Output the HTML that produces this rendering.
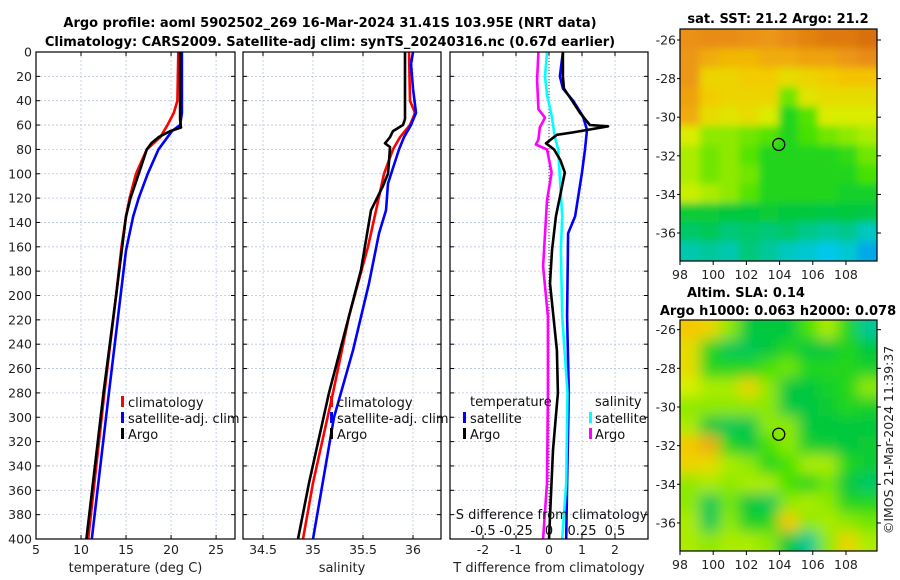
<!DOCTYPE html>
<html><head><meta charset="utf-8">
<style>
html,body{margin:0;padding:0;background:#fff;}
svg{display:block;font-family:"DejaVu Sans","Liberation Sans",sans-serif;}
.tk{font-size:12.5px;fill:#222;}
.tt{font-size:13px;font-weight:bold;fill:#000;}
.lg{font-size:13px;fill:#111;}
</style></head>
<body>
<svg id="c" width="900" height="580" viewBox="0 0 900 580" xmlns="http://www.w3.org/2000/svg">
<defs>
<filter id="blurS" x="-5%" y="-5%" width="110%" height="110%"><feGaussianBlur stdDeviation="4"/></filter>
<filter id="blurL" x="-5%" y="-5%" width="110%" height="110%"><feGaussianBlur stdDeviation="7"/></filter>
<clipPath id="clipM1"><rect x="680" y="29" width="197" height="232"/></clipPath>
<clipPath id="clipM2"><rect x="680" y="320" width="197" height="231"/></clipPath>
</defs>
<text class="tt" x="330" y="27" text-anchor="middle">Argo profile: aoml 5902502_269 16-Mar-2024 31.41S 103.95E (NRT data)</text>
<text class="tt" x="330" y="46" text-anchor="middle">Climatology: CARS2009. Satellite-adj clim: synTS_20240316.nc (0.67d earlier)</text>
<text class="tt" x="778" y="23" text-anchor="middle">sat. SST: 21.2 Argo: 21.2</text>
<text class="tt" x="687" y="297">Altim. SLA: 0.14</text>
<text class="tt" x="778" y="315" text-anchor="middle">Argo h1000: 0.063 h2000: 0.078</text>
<text class="tk" transform="translate(893,440) rotate(-90)" text-anchor="middle">©IMOS 21-Mar-2024 11:39:37</text>
<g id="plots"></g>
</svg>
<script>
// ---------- data ----------
const depthTicks=[0,20,40,60,80,100,120,140,160,180,200,220,240,260,280,300,320,340,360,380,400];
const tempTicks=[5,10,15,20,25];
const salTicks=[34.5,35,35.5,36];
const dtTicks=[-2,-1,0,1,2];
const dsTicks=[-0.5,-0.25,0,0.25,0.5];
const dsTickLabels=["-0.5","-0.25","0","0.25","0.5"];

const tClimDepth=[0,40,50,60,70,80,100,120,135,160,200,280,400];
const tClimVal=[20.8,20.7,20.3,19.6,18.8,17.3,16.1,15.4,15.0,14.5,13.9,12.6,10.8];
const tSatDepth=[0,50,60,65,70,80,100,120,135,163,200,280,400];
const tSatVal=[21.2,21.2,21.0,20.1,19.6,18.6,17.4,16.4,15.8,15.0,14.4,13.1,11.2];
const tArgoDepth=[0,55,62,65,70,75,80,100,120,135,200,280,400];
const tArgoVal=[21.0,21.0,21.1,19.9,18.6,17.8,17.3,16.4,15.5,15.0,13.9,12.5,10.6];

const sClimDepth=[0,40,50,60,70,80,100,119,160,217,280,354,400];
const sClimVal=[35.96,35.97,36.02,35.97,35.87,35.80,35.71,35.66,35.55,35.36,35.2,35.0,34.9];
const sSatDepth=[0,10,30,50,60,70,80,108,130,149,190,245,300,400];
const sSatVal=[36.0,35.98,36.0,36.03,35.98,35.91,35.86,35.75,35.73,35.66,35.56,35.40,35.21,35.0];
const sArgoDepth=[0,55,60,65,70,75,78,90,100,110,130,179,217,280,354,400];
const sArgoVal=[35.92,35.92,35.9,35.8,35.77,35.72,35.77,35.76,35.75,35.7,35.58,35.48,35.36,35.16,34.96,34.85];

const dtSatDepth=[0,20,30,40,53,64,80,99,135,149,217,280,354,400];
const dtSatVal=[0.42,0.33,0.42,0.73,1.03,1.15,1.09,1.0,0.79,0.58,0.55,0.6,0.55,0.52];
const dtArgoDepth=[0,20,30,40,50,60,61,66,68,75,80,89,99,119,135,163,190,245,280,327,400];
const dtArgoVal=[0.42,0.42,0.45,0.7,0.94,1.24,1.79,0.73,0.24,-0.09,0.15,0.35,0.48,0.33,0.21,0.09,0.03,0.24,0.27,0.12,0.0];
const dsSatDepth=[0,20,35,52,70,80,135,163,217,280,354,400];
const dsSatVal=[-0.015,-0.03,-0.015,0.02,0.045,0.07,0.1,0.09,0.1,0.14,0.13,0.1];
const dsArgoDepth=[0,23,47,54,62,72,76,80,99,122,176,217,280,354,400];
const dsArgoVal=[-0.08,-0.09,-0.08,-0.03,-0.07,-0.08,-0.1,-0.015,0.02,-0.015,-0.045,-0.008,-0.008,-0.015,-0.045];

const lonTicks=[98,100,102,104,106,108];
const latTicks=[-26,-28,-30,-32,-34,-36];
const argoLon=103.95, argoLat=-31.41;
const sstGrid=[
[.85,.86,.86,.85,.84,.86,.88,.9,.9,.92],
[.84,.8,.78,.78,.8,.8,.82,.82,.84,.86],
[.84,.72,.72,.74,.74,.7,.72,.74,.76,.76],
[.82,.74,.72,.72,.72,.58,.68,.7,.7,.7],
[.8,.7,.68,.7,.66,.5,.56,.66,.66,.66],
[.66,.6,.6,.58,.56,.5,.55,.58,.6,.62],
[.62,.58,.6,.56,.5,.5,.5,.5,.52,.58],
[.62,.58,.6,.58,.5,.5,.5,.5,.5,.55],
[.64,.62,.6,.56,.5,.5,.5,.5,.48,.48],
[.46,.46,.45,.45,.46,.45,.45,.44,.45,.44],
[.4,.42,.38,.4,.38,.4,.36,.34,.36,.3],
[.32,.34,.32,.38,.34,.3,.28,.25,.28,.2]];
const slaGrid=[
[.75,.72,.6,.45,.45,.45,.55,.62,.5,.35],
[.7,.5,.42,.42,.45,.5,.45,.45,.5,.45],
[.7,.5,.5,.5,.55,.58,.5,.5,.5,.48],
[.65,.62,.62,.72,.6,.45,.45,.48,.5,.6],
[.6,.6,.6,.6,.6,.44,.44,.46,.5,.48],
[.62,.45,.42,.43,.6,.6,.45,.45,.45,.45],
[.75,.8,.5,.45,.55,.6,.48,.46,.45,.46],
[.72,.7,.62,.6,.5,.55,.62,.62,.5,.46],
[.6,.62,.6,.62,.62,.55,.5,.58,.45,.4],
[.6,.42,.58,.45,.42,.6,.62,.6,.5,.5],
[.62,.42,.6,.48,.5,.75,.6,.62,.6,.58],
[.62,.6,.62,.62,.6,.45,.35,.6,.72,.62]];

// ---------- helpers ----------
const NS="http://www.w3.org/2000/svg";
const root=document.getElementById('plots');
function mk(tag,attrs,parent){const e=document.createElementNS(NS,tag);for(const k in attrs)e.setAttribute(k,attrs[k]);(parent||root).appendChild(e);return e;}
const top0=52,bot0=539;
const yD=d=>top0+(d/400)*(bot0-top0);
function lin(d0,d1,r0,r1){return v=>r0+(v-d0)/(d1-d0)*(r1-r0);}

function panel(x0,x1,xs,ticks,labels,name,title,showY){
  const g=mk('g',{});
  
  
  depthTicks.forEach(d=>{const l=mk('line',{x1:x0,x2:x1,y1:yD(d),y2:yD(d),stroke:'#b8c4e0','stroke-width':0.8,'stroke-dasharray':'2,2'},g);
    
    mk('line',{x1:x0,x2:x0+4,y1:yD(d),y2:yD(d),stroke:'#000'},g);mk('line',{x1:x1-4,x2:x1,y1:yD(d),y2:yD(d),stroke:'#000'},g);
    if(showY){const t=mk('text',{x:x0-4,y:yD(d)+4.5,'text-anchor':'end',class:'tk'},g);t.textContent=d;
      }
  });
  ticks.forEach((v,i)=>{const x=xs(v);
    if(x>x0+1&&x<x1-1){const l=mk('line',{x1:x,x2:x,y1:top0,y2:bot0,stroke:'#b8c4e0','stroke-width':0.8,'stroke-dasharray':'2,2'},g);
      }
    mk('line',{x1:x,x2:x,y1:bot0,y2:bot0-4,stroke:'#000'},g);mk('line',{x1:x,x2:x,y1:top0,y2:top0+4,stroke:'#000'},g);
    const t=mk('text',{x:x,y:554,'text-anchor':'middle',class:'tk'},g);t.textContent=labels?labels[i]:v;
    
  });
  const t=mk('text',{x:(x0+x1)/2,y:572,'text-anchor':'middle',class:'tk',style:'font-size:13px'},g);t.textContent=title;
  
  return g;
}
function frame(x0,x1,name){const r=mk('rect',{x:x0,y:top0,width:x1-x0,height:bot0-top0,fill:'none',stroke:'#000','stroke-width':1.2});
  }
function series(depths,vals,xs,color,name,w){
  const pts=depths.map((d,i)=>xs(vals[i]).toFixed(1)+','+yD(d).toFixed(1)).join(' ');
  const p=mk('polyline',{points:pts,fill:'none',stroke:color,'stroke-width':w||2.6,'stroke-linejoin':'round'});
  
}
function legend(x,y,color,label,name,tx){
  const g=mk('g',{});
  
  if(color)mk('rect',{x:x,y:y-11,width:3,height:11,fill:color},g);
  const t=mk('text',{x:tx!==undefined?tx:x+7,y:y,class:'lg'},g);t.textContent=label;
}

// Panel 1: temperature
const xT=lin(5,27.1,36,235);
panel(36,235,xT,tempTicks,null,'temperature-panel','temperature (deg C)',true);
series(tClimDepth,tClimVal,xT,'#ff0000','temp-climatology-line');
series(tSatDepth,tSatVal,xT,'#0000ff','temp-satellite-line');
series(tArgoDepth,tArgoVal,xT,'#000000','temp-argo-line');
frame(36,235,'temperature-axes-frame');
legend(121,407,'#ff0000','climatology','legend-climatology');
legend(121,423,'#0000ff','satellite-adj. clim','legend-satellite-adj');
legend(121,439,'#000000','Argo','legend-argo');

// Panel 2: salinity
const xS=lin(34.3,36.28,243,441);
panel(243,441,xS,salTicks,null,'salinity-panel','salinity',false);
series(sClimDepth,sClimVal,xS,'#ff0000','sal-climatology-line');
series(sSatDepth,sSatVal,xS,'#0000ff','sal-satellite-line');
series(sArgoDepth,sArgoVal,xS,'#000000','sal-argo-line');
frame(243,441,'salinity-axes-frame');
legend(330,407,'#ff0000','climatology','legend-sal-climatology');
legend(330,423,'#0000ff','satellite-adj. clim','legend-sal-satellite-adj');
legend(330,439,'#000000','Argo','legend-sal-argo');

// Panel 3: differences
const xDT=lin(-3,3,450,648);
const xDS=lin(-0.75,0.75,450,648);
panel(450,648,xDT,dtTicks,null,'difference-panel','T difference from climatology',false);
const z=mk('line',{x1:xDT(0),x2:xDT(0),y1:top0,y2:bot0,stroke:'#444','stroke-width':1,'stroke-dasharray':'1,2'});

series(dtSatDepth,dtSatVal,xDT,'#0000ff','dT-satellite-line');
series(dsSatDepth,dsSatVal,xDS,'#00ffff','dS-satellite-line');
series(dsArgoDepth,dsArgoVal,xDS,'#ff00ff','dS-argo-line');
series(dtArgoDepth,dtArgoVal,xDT,'#000000','dT-argo-line');
frame(450,648,'difference-axes-frame');
const st=mk('text',{x:xDS(0.02),y:519,'text-anchor':'middle',class:'lg'});st.textContent='S difference from climatology';

dsTicks.forEach((v,i)=>{const t=mk('text',{x:xDS(v),y:535,'text-anchor':'middle',class:'lg'});t.textContent=dsTickLabels[i];
  });
legend(463,406,null,'temperature','legend-temperature-header',470);
legend(463,423,'#0000ff','satellite','legend-dT-satellite',470);
legend(463,439,'#000000','Argo','legend-dT-argo',470);
legend(589,406,null,'salinity','legend-salinity-header',595);
legend(589,423,'#00ffff','satellite','legend-dS-satellite',595);
legend(589,439,'#ff00ff','Argo','legend-dS-argo',595);

// ---------- maps ----------
const stops=[[0,[0,50,220]],[0.25,[0,200,235]],[0.45,[0,200,60]],[0.55,[70,225,0]],[0.65,[215,240,0]],[0.75,[245,200,0]],[0.85,[235,145,20]],[1,[195,75,0]]];
function cmap(v){for(let i=1;i<stops.length;i++){if(v<=stops[i][0]){const a=stops[i-1],b=stops[i],f=(v-a[0])/(b[0]-a[0]);
  return 'rgb('+a[1].map((c,k)=>Math.round(c+(b[1][k]-c)*f)).join(',')+')';}}return 'rgb(195,75,0)';}
function map(y0,y1,grid,filt,clip,name,latTop,latBot){
  const x0=680,x1=877;
  const xL=lin(98,109.87,x0,x1), yL=lin(latTop,latBot,y0,y1);
  const g=mk('g',{'clip-path':'url(#'+clip+')'});
  
  const gi=mk('g',{filter:'url(#'+filt+')'},g);
  const rows=grid.length,cols=grid[0].length,cw=(x1-x0)/cols,ch=(y1-y0)/rows;
  grid.forEach((row,r)=>row.forEach((v,c)=>{const e=mk('rect',{x:x0+c*cw-(c==0?12:0),y:y0+r*ch-(r==0?12:0),width:cw+0.6+(c==0||c==cols-1?12:0),height:ch+0.6+(r==0||r==rows-1?12:0),fill:cmap(v)},gi);
    }));
  const ci=mk('circle',{cx:xL(argoLon),cy:yL(argoLat),r:6,fill:'none',stroke:'#000','stroke-width':1.3});
  
  const fr=mk('rect',{x:x0,y:y0,width:x1-x0,height:y1-y0,fill:'none',stroke:'#000','stroke-width':1.2});
  
  latTicks.forEach(v=>{const y=yL(v);mk('line',{x1:x1,x2:x1+4,y1:y,y2:y,stroke:'#000'});mk('line',{x1:x0,x2:x0-3,y1:y,y2:y,stroke:'#000'});
    const t=mk('text',{x:x0-4,y:y+4.5,'text-anchor':'end',class:'tk'});t.textContent=v;
    });
  lonTicks.forEach(v=>{const x=xL(v);mk('line',{x1:x,x2:x,y1:y1,y2:y1+4,stroke:'#000'});
    const t=mk('text',{x:x,y:y1+18,'text-anchor':'middle',class:'tk'});t.textContent=v;
    });
}
map(29,261,sstGrid,'blurS','clipM1','sst-map',-25.43,-37.45);
map(320,551,slaGrid,'blurL','clipM2','sla-map',-25.5,-37.45);
</script>
</body></html>
